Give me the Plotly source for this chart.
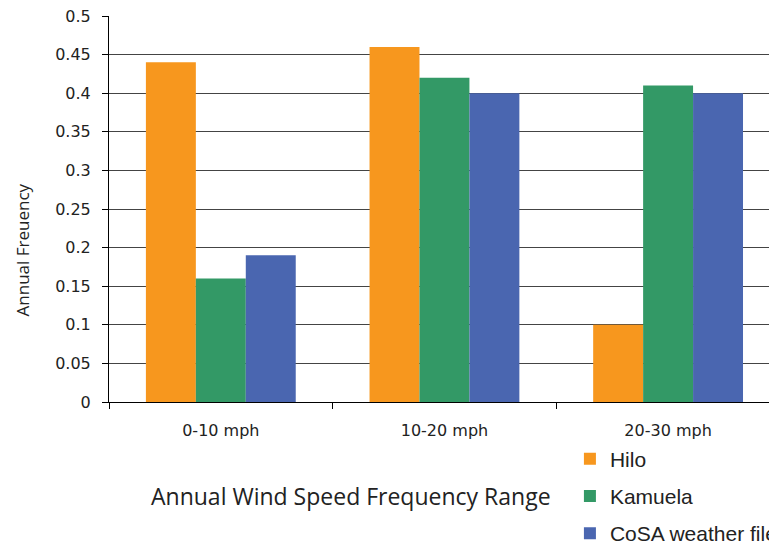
import plotly.graph_objects as go

categories = ["0-10 mph", "10-20 mph", "20-30 mph"]
hilo = [0.44, 0.46, 0.10]
kamuela = [0.16, 0.42, 0.41]
cosa = [0.19, 0.40, 0.40]
series_names = ["Hilo", "Kamuela", "CoSA weather file"]
colors = ["#F7971E", "#339966", "#4A66B0"]
y_ticks = [0, 0.05, 0.1, 0.15, 0.2, 0.25, 0.3, 0.35, 0.4, 0.45, 0.5]
y_tick_text = ["0", "0.05", "0.1", "0.15", "0.2", "0.25", "0.3", "0.35", "0.4", "0.45", "0.5"]
x_title = "Annual Wind Speed Frequency Range"
y_title = "Annual Freuency"

fig = go.Figure()
for i, (name, vals) in enumerate(zip(series_names, [hilo, kamuela, cosa])):
    fig.add_trace(go.Bar(x=categories, y=vals, name=name,
                         marker=dict(color=colors[i], line=dict(width=0)),
                         legendgroup=name))

# the page body adds an 8px offset; margins compensate for it
fig.update_layout(
    width=777, height=546,
    margin=dict(l=101, r=8, t=8, b=152, autoexpand=False),
    paper_bgcolor="white", plot_bgcolor="white",
    barmode="group", bargap=0.33, bargroupgap=0,
    font=dict(family="DejaVu Sans, sans-serif", color="#222"),
    showlegend=True,
    legend=dict(x=0.690, y=-0.0945, xanchor="left", yanchor="top", orientation="v",
                font=dict(family="Liberation Sans, Arial, sans-serif", size=21, color="#222"),
                tracegroupgap=7, traceorder="grouped",
                bgcolor="rgba(0,0,0,0)"),
    xaxis=dict(
        type="category", range=[-0.5, 2.487], automargin=False,
        showline=True, linecolor="#000", linewidth=1,
        ticks="outside", ticklen=6, tickcolor="#000", tickson="boundaries",
        tickfont=dict(size=16, color="#222"), ticklabelstandoff=14,
        showgrid=False,
    ),
    yaxis=dict(
        range=[0, 0.5], tickvals=y_ticks, ticktext=y_tick_text, automargin=False,
        showline=True, linecolor="#000", linewidth=1,
        ticks="outside", ticklen=6, tickcolor="#000",
        tickfont=dict(size=16, color="#222"), ticklabelstandoff=8,
        ticklabeloverflow="allow",
        showgrid=True, gridcolor="#444", gridwidth=1,
        zeroline=False,
    ),
    annotations=[
        dict(text=x_title, xref="paper", yref="paper", x=0.363, y=-0.2435,
             xanchor="center", yanchor="middle", showarrow=False,
             font=dict(family="Open Sans, sans-serif", size=23, color="#222")),
        dict(text=y_title, xref="paper", yref="paper", x=-0.1295, y=0.394,
             xanchor="center", yanchor="middle", showarrow=False, textangle=-90,
             font=dict(family="Open Sans, sans-serif", size=17, color="#222")),
    ],
)

fig.write_html("out.html")
